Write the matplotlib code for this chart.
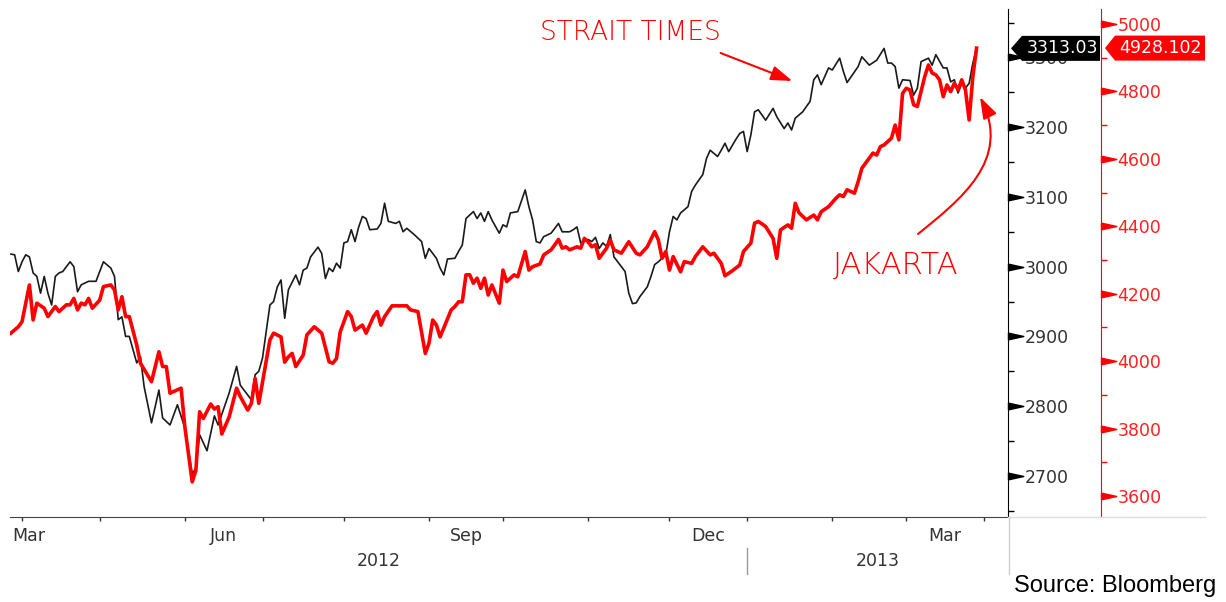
import numpy as np
import pandas as pd
import matplotlib
matplotlib.use("Agg")
import matplotlib.pyplot as plt
import matplotlib.transforms as mtransforms
from matplotlib.path import Path
from matplotlib.patches import Polygon, FancyArrowPatch
from matplotlib.lines import Line2D

# x = trading session number counted from 2012-03-28
start_date = '2012-03-28'

sti_day = [0, 1, 2, 3, 4, 5, 6, 7, 8, 9, 10, 11, 12, 13, 14, 16, 17, 18, 19, 21, 23, 25, 27, 28, 29, 30,
           31, 32, 34, 35, 36, 38, 40, 41, 43, 45, 47, 49, 50, 51, 53, 55, 56, 59, 61, 62, 64, 65, 66, 67,
           68, 70, 71, 72, 73, 74, 75, 77, 78, 79, 80, 81, 83, 84, 85, 86, 87, 88, 89, 90, 91, 92, 93, 94,
           95, 96, 97, 99, 100, 101, 102, 104, 105, 106, 107, 109, 110, 111, 112, 113, 115, 116, 117, 118,
           120, 121, 122, 123, 125, 126, 127, 128, 129, 130, 132, 133, 134, 135, 137, 139, 140, 141, 142,
           143, 144, 146, 148, 149, 151, 152, 153, 154, 156, 157, 158, 159, 160, 161, 162, 163, 164, 166,
           167, 168, 169, 170, 172, 173, 174, 175, 177, 178, 179, 180, 181, 183, 184, 185, 187, 188, 189,
           191, 192, 193, 194, 196, 197, 198, 199, 200, 201, 202, 204, 206, 207, 209, 210, 211, 212, 214,
           216, 217, 218, 219, 221, 222, 224, 225, 226, 229, 230, 232, 234, 236, 237, 238, 239, 240, 241,
           243, 244, 245, 246, 248, 249, 250, 252, 253, 254, 255, 256, 257, 258, 259, 260, 261]
sti_val = [3018, 3017, 2993, 3007, 3017, 3014, 2991, 2986, 2962, 2986, 2962, 2945, 2986, 2991, 2993, 3007,
           3000, 2964, 2974, 2979, 2979, 3007, 2998, 2986, 2924, 2928, 2900, 2900, 2862, 2871, 2828, 2776,
           2823, 2783, 2773, 2802, 2769, 2703, 2711, 2759, 2736, 2786, 2773, 2819, 2857, 2830, 2816, 2809,
           2845, 2850, 2869, 2945, 2950, 2971, 2981, 2926, 2967, 2988, 2974, 2995, 2998, 3014, 3028, 3019,
           2983, 2998, 2993, 3005, 2998, 3034, 3036, 3053, 3036, 3057, 3072, 3069, 3053, 3054, 3062, 3091,
           3065, 3062, 3065, 3050, 3055, 3046, 3041, 3036, 3012, 3026, 3012, 2998, 2988, 3011, 3012, 3022,
           3031, 3069, 3079, 3069, 3077, 3065, 3079, 3067, 3048, 3060, 3057, 3077, 3079, 3110, 3086, 3067,
           3036, 3034, 3043, 3048, 3062, 3050, 3050, 3053, 3057, 3034, 3039, 3036, 3042, 3026, 3034, 3029,
           3046, 3014, 3007, 2993, 2962, 2947, 2948, 2957, 2971, 2986, 3003, 3007, 3017, 3050, 3072, 3067,
           3077, 3086, 3108, 3117, 3132, 3155, 3167, 3158, 3167, 3177, 3165, 3183, 3191, 3194, 3165, 3189,
           3222, 3225, 3210, 3227, 3215, 3198, 3206, 3196, 3213, 3222, 3237, 3268, 3275, 3261, 3285, 3282,
           3299, 3280, 3264, 3287, 3301, 3289, 3296, 3313, 3292, 3292, 3287, 3256, 3268, 3267, 3246, 3256,
           3294, 3299, 3289, 3304, 3285, 3285, 3265, 3268, 3249, 3263, 3256, 3263, 3292, 3313.03]

jci_day = [0, 2, 3, 5, 6, 7, 9, 10, 12, 13, 15, 16, 17, 18, 19, 20, 21, 22, 24, 25, 27, 28, 29, 30, 31, 32,
           34, 35, 38, 40, 41, 42, 43, 46, 47, 49, 50, 51, 52, 54, 55, 56, 57, 59, 61, 62, 64, 65, 66, 67,
           70, 71, 73, 74, 75, 76, 77, 79, 80, 82, 84, 86, 87, 88, 89, 91, 92, 93, 95, 96, 98, 99, 100, 101,
           103, 107, 108, 110, 112, 113, 114, 115, 116, 119, 120, 121, 122, 123, 124, 125, 126, 127, 128,
           129, 130, 132, 133, 134, 136, 137, 139, 140, 141, 143, 144, 146, 147, 148, 149, 150, 151, 153,
           154, 155, 156, 157, 158, 159, 161, 162, 163, 164, 165, 167, 169, 170, 172, 174, 175, 176, 177,
           178, 179, 181, 182, 184, 185, 187, 189, 190, 192, 193, 195, 197, 198, 200, 201, 202, 203, 204,
           206, 207, 208, 210, 211, 212, 213, 215, 217, 218, 219, 221, 223, 224, 225, 226, 228, 229, 230,
           232, 233, 234, 235, 236, 238, 239, 240, 241, 242, 243, 244, 245, 246, 247, 248, 249, 250, 251,
           252, 253, 254, 255, 256, 257, 258, 259, 260, 261]
jci_val = [4083, 4102, 4117, 4226, 4122, 4172, 4157, 4132, 4162, 4147, 4167, 4167, 4186, 4152, 4172, 4167,
           4186, 4157, 4181, 4221, 4226, 4211, 4152, 4191, 4132, 4132, 4048, 3994, 3939, 4028, 3984, 3984,
           3905, 3920, 3806, 3642, 3677, 3850, 3830, 3873, 3858, 3865, 3784, 3835, 3920, 3895, 3855, 3875,
           3949, 3875, 4063, 4083, 4072, 3997, 4013, 4023, 3984, 4018, 4078, 4102, 4083, 3998, 3994, 4008,
           4087, 4147, 4132, 4092, 4107, 4083, 4132, 4147, 4107, 4132, 4164, 4164, 4152, 4147, 4023, 4053,
           4122, 4107, 4072, 4152, 4162, 4176, 4176, 4256, 4256, 4231, 4246, 4216, 4246, 4196, 4226, 4172,
           4270, 4236, 4256, 4250, 4325, 4270, 4280, 4288, 4315, 4330, 4345, 4361, 4335, 4339, 4330, 4339,
           4335, 4364, 4354, 4339, 4345, 4305, 4335, 4359, 4330, 4325, 4320, 4354, 4320, 4315, 4339, 4384,
           4359, 4305, 4325, 4270, 4310, 4265, 4295, 4290, 4310, 4339, 4315, 4320, 4290, 4253, 4268, 4285,
           4325, 4350, 4409, 4414, 4407, 4399, 4364, 4305, 4389, 4404, 4394, 4468, 4440, 4419, 4433, 4419,
           4443, 4458, 4483, 4493, 4488, 4508, 4498, 4532, 4572, 4602, 4617, 4611, 4636, 4641, 4661, 4700,
           4656, 4794, 4809, 4804, 4760, 4755, 4799, 4844, 4878, 4854, 4849, 4834, 4784, 4819, 4799, 4824,
           4804, 4834, 4804, 4715, 4844, 4928.102]

sti_ticks = [2700, 2800, 2900, 3000, 3100, 3200, 3300]
jci_ticks = [3600, 3800, 4000, 4200, 4400, 4600, 4800, 5000]
month_labels = ['Jun', 'Sep', 'Dec', 'Mar']
year_labels = ['2012', '2013']

W, H = 1226, 602


def fx(x):
    return x / W


def fy(y):
    return 1 - y / H


fig = plt.figure(figsize=(W / 100, H / 100), dpi=100)
ax = fig.add_axes([fx(10), fy(517), 998 / W, 508 / H])
ax2 = ax.twinx()

ax.plot(sti_day, sti_val, color='#1a1a1a', lw=1.2, zorder=3)
ax2.plot(jci_day, jci_val, color='#ff0000', lw=2.6, zorder=3)

ax.set_xlim(-0.25, 269.5)
ax.set_ylim(2641, 3369.5)
ax2.set_ylim(3538, 5044)

# spines
for s in ['left', 'top']:
    ax.spines[s].set_visible(False)
ax.spines['right'].set_color('black')
ax.spines['bottom'].set_color('#444444')
for s in ['left', 'top', 'bottom']:
    ax2.spines[s].set_visible(False)
ax2.spines['right'].set_position(('outward', 93 * 0.72))
ax2.spines['right'].set_color('#ff0000')

# flag-shaped major ticks
flag = Path([(0, -0.22), (0, 0.22), (1, 0), (0, -0.22)],
            [Path.MOVETO, Path.LINETO, Path.LINETO, Path.CLOSEPOLY])

ax.yaxis.tick_right()
ax.set_yticks(sti_ticks)
ax.set_yticks(np.arange(2650, 3400, 50), minor=True)
ax.tick_params(axis='y', which='major', length=0, pad=12, labelsize=12.5, labelcolor='#333333')
ax.tick_params(axis='y', which='minor', length=4, width=1, color='black')
ax.plot(np.ones(len(sti_ticks)), sti_ticks, transform=ax.get_yaxis_transform(), marker=flag,
        ms=22, color='black', ls='none', clip_on=False)

ax2.set_yticks(jci_ticks)
ax2.set_yticks(np.arange(3700, 5100, 200), minor=True)
ax2.tick_params(axis='y', which='major', length=0, pad=12, labelsize=12.5, labelcolor='#ff2020')
ax2.tick_params(axis='y', which='minor', length=4, width=1, color='#ff0000')
ax2.plot(np.full(len(jci_ticks), 1 + 93 / 998), jci_ticks, transform=ax2.get_yaxis_transform(),
         marker=flag, ms=22, color='#ff0000', ls='none', clip_on=False)

# x axis: months by trading sessions
bdays = pd.bdate_range(start_date, periods=275)
mp = bdays.to_period('M')
starts = [i for i in range(1, len(bdays)) if mp[i] != mp[i - 1]]
starts = [i for i in starts if i <= 269]
ax.set_xticks(starts)
ax.tick_params(axis='x', length=3, width=1, color='#333333', labelbottom=False)

bt = mtransforms.blended_transform_factory(ax.transData, ax.transAxes)
lab_y = (517 - 536) / 508
year_y = (517 - 561) / 508
ax.text(0.002, lab_y, 'Mar', transform=ax.transAxes, ha='left', va='center', fontsize=12.5,
        color='#333333')
for k, i in enumerate(starts[:-1]):
    nm = bdays[i].strftime('%b')
    if nm in month_labels:
        ax.text((i + starts[k + 1]) / 2, lab_y, nm, transform=bt, ha='center', va='center',
                fontsize=12.5, color='#333333')
jan = [i for i in starts if bdays[i].month == 1][0]
xl = ax.get_xlim()
ax.text((xl[0] + jan) / 2, year_y, year_labels[0], transform=bt, ha='center', va='center',
        fontsize=12.5, color='#333333')
ax.text((jan + xl[1]) / 2, year_y, year_labels[1], transform=bt, ha='center', va='center',
        fontsize=12.5, color='#333333')
ax.plot([jan, jan], [(517 - 548) / 508, (517 - 574) / 508], transform=bt, color='#999999', lw=1,
        clip_on=False)

# light frame lines bottom right
fig.add_artist(Line2D([fx(1008), fx(1205)], [fy(517), fy(517)], transform=fig.transFigure,
                      color='#dddddd', lw=1))
fig.add_artist(Line2D([fx(1009), fx(1009)], [fy(517), fy(574)], transform=fig.transFigure,
                      color='#cccccc', lw=1))

# last value tags
yb = ax.transData.transform((0, sti_val[-1]))[1]
yr = ax2.transData.transform((0, jci_val[-1]))[1]
hb = 12.5
tag_b = [(1011, yb), (1022, yb + hb), (1100, yb + hb), (1100, yb - hb), (1022, yb - hb)]
tag_r = [(1105, yr), (1115, yr + hb), (1205, yr + hb), (1205, yr - hb), (1115, yr - hb)]
fig.add_artist(Polygon([(x / W, y / H) for x, y in tag_b], closed=True, transform=fig.transFigure,
                       facecolor='black', edgecolor='none', zorder=5))
fig.add_artist(Polygon([(x / W, y / H) for x, y in tag_r], closed=True, transform=fig.transFigure,
                       facecolor='#ff0000', edgecolor='none', zorder=5))
fig.text(1062 / W, yb / H, f'{sti_val[-1]:.2f}', color='white', fontsize=12.5, ha='center',
         va='center', zorder=6)
fig.text(1160 / W, yr / H, f'{jci_val[-1]:.3f}', color='white', fontsize=12.5, ha='center',
         va='center', zorder=6)

# hand-drawn style notes
fig.text(fx(630), fy(33), 'STRAIT TIMES', color='#ff0000', fontsize=19, ha='center', va='center',
         fontweight='light')
fig.text(fx(896), fy(265), 'JAKARTA', color='#ff0000', fontsize=22, ha='center', va='center',
         fontweight='light')
head = '-|>,head_length=0.65,head_width=0.22'
fig.add_artist(FancyArrowPatch((fx(718), fy(52)), (fx(795), fy(82)), transform=fig.transFigure,
                               arrowstyle=head, mutation_scale=20, color='#ff0000', lw=1.5))
verts = [(918, 234), (960, 200), (1012, 160), (980, 97)]
curve = Path([(fx(x), fy(y)) for x, y in verts], [Path.MOVETO, Path.CURVE4, Path.CURVE4, Path.CURVE4])
fig.add_artist(FancyArrowPatch(path=curve, transform=fig.transFigure, arrowstyle=head,
                               mutation_scale=20, color='#ff0000', lw=1.5))

fig.text(fx(1216), fy(586), 'Source: Bloomberg', fontsize=17, family='Liberation Sans', ha='right',
         va='center', color='black')

fig.savefig('out.png', dpi=100)
